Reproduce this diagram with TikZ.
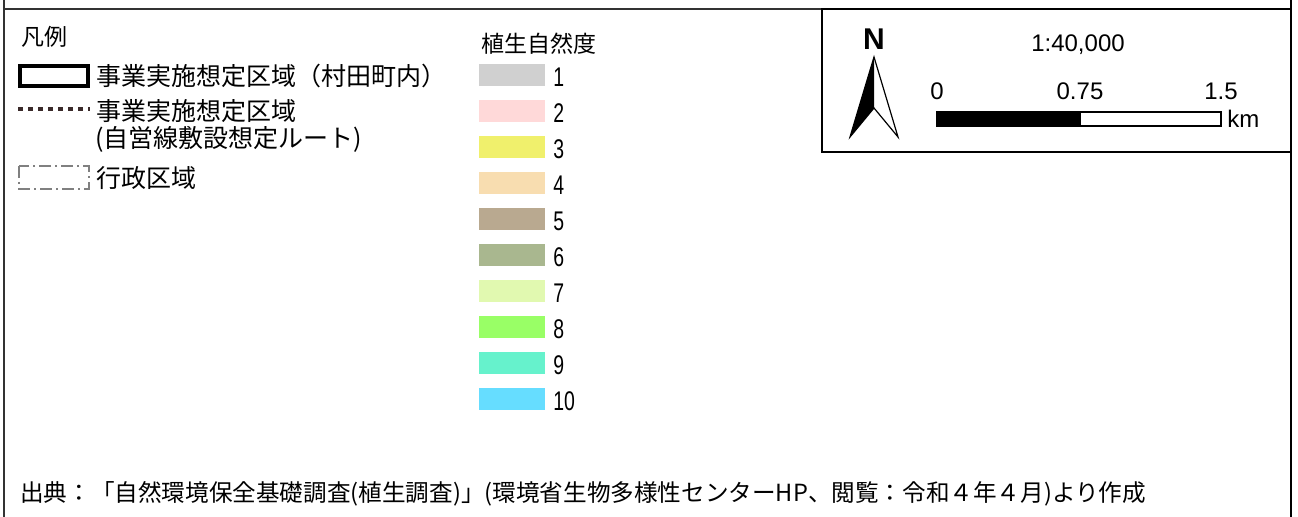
\documentclass[tikz,border=0pt]{standalone}
\usepackage{fontspec}
\setmainfont{Noto Sans CJK JP}
\newfontfamily\arialfont{Liberation Sans}
\newfontfamily\narrowfont[FakeStretch=0.72]{Liberation Sans}
\usetikzlibrary{calc}
\definecolor{nat1}{HTML}{D0D0D0}
\definecolor{nat2}{HTML}{FFD9D9}
\definecolor{nat3}{HTML}{F0F06C}
\definecolor{nat4}{HTML}{F8DDB0}
\definecolor{nat5}{HTML}{B9A990}
\definecolor{nat6}{HTML}{A9B78F}
\definecolor{nat7}{HTML}{E1F9B0}
\definecolor{nat8}{HTML}{99FF66}
\definecolor{nat9}{HTML}{66F2CC}
\definecolor{nat10}{HTML}{66DDFF}
\definecolor{framegray}{HTML}{333333}
\definecolor{routebrown}{HTML}{3A2A2A}
\tikzstyle{legtext} = [anchor=west, inner sep=0pt, color=black]
\tikzstyle{numlabel} = [anchor=west, inner sep=0pt, color=black, font={\narrowfont\fontsize{13.5pt}{13.5pt}\selectfont}]
\tikzstyle{scalelabel} = [anchor=center, inner sep=0pt, color=black, font={\arialfont\fontsize{12pt}{12pt}\selectfont}]
\tikzset{font={\fontsize{12.5pt}{13pt}\selectfont}}

\begin{document}
\begin{tikzpicture}[x=0.5pt, y=-0.5pt]
  \useasboundingbox (0,0) rectangle (1298,517);

  % frame
  \draw[line width=1pt, color=framegray] (4,0) -- (4,517);
  \draw[line width=1.2pt, color=black] (1291,0) -- (1291,517);
  \draw[line width=1pt, color=framegray] (4,9) -- (1291,9);

  % legend
  \begin{scope}
    \node[legtext, font={\fontsize{11.5pt}{12pt}\selectfont}] (hanrei) at (21,37) {凡例};

    \draw[line width=2pt] (20,66) rectangle (88,86);
    \node[legtext] (area) at (96,76) {事業実施想定区域（村田町内）};

    \draw[line width=2pt, color=routebrown, dash pattern=on 2.5pt off 2.5pt] (18,109) -- (90,109);
    \node[legtext] (route) at (96,111) {事業実施想定区域};
    \node[legtext] (routesub) at (95,139) {(自営線敷設想定ルート)};

    \draw[line width=0.75pt, color=gray, dash pattern=on 6pt off 2pt on 1pt off 2pt] (19,166) rectangle (89,189);
    \node[legtext] (admin) at (96,178) {行政区域};
  \end{scope}

  % vegetation naturalness
  \begin{scope}[shift={(479,0)}]
    \node[legtext, font={\fontsize{11.5pt}{12pt}\selectfont}] (shizendo) at (2,44) {植生自然度};
    \fill[nat1] (0,64) rectangle ++ (66,22);
    \fill[nat2] (0,100) rectangle ++ (66,22);
    \fill[nat3] (0,136) rectangle ++ (66,22);
    \fill[nat4] (0,172) rectangle ++ (66,22);
    \fill[nat5] (0,208) rectangle ++ (66,22);
    \fill[nat6] (0,244) rectangle ++ (66,22);
    \fill[nat7] (0,280) rectangle ++ (66,22);
    \fill[nat8] (0,316) rectangle ++ (66,22);
    \fill[nat9] (0,352) rectangle ++ (66,22);
    \fill[nat10] (0,388) rectangle ++ (66,22);
    \node[numlabel] (n1) at (74,77) {1};
    \node[numlabel] (n2) at (74,113) {2};
    \node[numlabel] (n3) at (74,149) {3};
    \node[numlabel] (n4) at (74,185) {4};
    \node[numlabel] (n5) at (74,221) {5};
    \node[numlabel] (n6) at (74,257) {6};
    \node[numlabel] (n7) at (74,293) {7};
    \node[numlabel] (n8) at (74,329) {8};
    \node[numlabel] (n9) at (74,365) {9};
    \node[numlabel] (n10) at (74,401) {10};
  \end{scope}

  % north arrow and scale
  \begin{scope}[shift={(822,9)}]
    \filldraw[draw=black, fill=white, line width=1pt] (0,0) rectangle (469,143);
    \node[scalelabel, font={\arialfont\bfseries\fontsize{15pt}{15pt}\selectfont}] (north) at (52,30) {N};
    \fill[black] (52,48) -- (28,128) -- (52,99) -- cycle;
    \draw[line width=0.6pt, line join=miter] (52,48) -- (28,128) -- (52,99) -- (76,128) -- cycle;
    \node[scalelabel] (ratio) at (256,36) {1:40,000};
    \node[scalelabel] (s0) at (115,82) {0};
    \node[scalelabel] (s075) at (258,82) {0.75};
    \node[scalelabel] (s15) at (399,82) {1.5};
    \filldraw[draw=black, fill=black, line width=0.6pt] (115,103) rectangle (258,117);
    \filldraw[draw=black, fill=white, line width=0.6pt] (258,103) rectangle (399,117);
    \node[scalelabel, anchor=west] (km) at (405,110) {km};
  \end{scope}

  % source
  \node[legtext, font={\fontsize{11.8pt}{12pt}\selectfont}] (source) at (20,494) {出典：「自然環境保全基礎調査(植生調査)」(環境省生物多様性センターHP、閲覧：令和４年４月)より作成};
\end{tikzpicture}
\end{document}
